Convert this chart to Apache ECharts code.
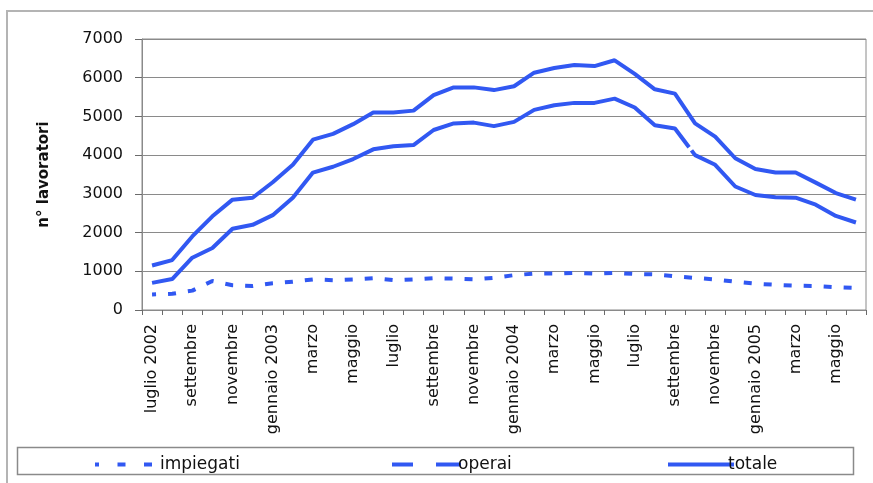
<!DOCTYPE html>
<html>
<head>
<meta charset="utf-8">
<script src="https://cdn.jsdelivr.net/npm/echarts@6/dist/echarts.min.js"></script>
<style>
html,body{margin:0;padding:0;background:#fff;}
#c{width:873px;height:483px;}
</style>
</head>
<body>
<div id="c"></div>
<script>
const categories = [
  'luglio 2002','agosto','settembre','ottobre','novembre','dicembre',
  'gennaio 2003','febbraio','marzo','aprile','maggio','giugno',
  'luglio','agosto','settembre','ottobre','novembre','dicembre',
  'gennaio 2004','febbraio','marzo','aprile','maggio','giugno',
  'luglio','agosto','settembre','ottobre','novembre','dicembre',
  'gennaio 2005','febbraio','marzo','aprile','maggio','giugno'
];
const impiegati = [400,420,500,750,640,620,690,730,790,770,790,820,
                   770,790,820,810,790,830,900,940,940,960,940,960,
                   930,920,870,830,790,730,680,650,630,620,590,570];
const operai = [700,800,1350,1600,2100,2200,2450,2900,3550,3700,3900,4150,
                4230,4260,4650,4820,4840,4750,4860,5170,5290,5350,5350,5460,
                5230,4770,4690,4000,3750,3190,2970,2910,2900,2720,2430,2260];
const totale = [1150,1290,1900,2420,2850,2900,3300,3750,4400,4550,4800,5100,
                5100,5150,5550,5750,5750,5680,5780,6130,6250,6330,6300,6450,
                6100,5700,5590,4820,4480,3920,3640,3550,3550,3290,3020,2850];
const yTicks = {min:0, max:7000, interval:1000};
const seriesNames = ['impiegati','operai','totale'];

const blue = '#3158f2';
const font = 'DejaVu Sans';
const chart = echarts.init(document.getElementById('c'), null, {renderer:'canvas'});

function legendFor(name, left, width, dash, textShift) {
  return {
    data:[name], left:left, top:451, orient:'horizontal',
    itemWidth:width, itemHeight:14, selectedMode:false,
    itemStyle:{opacity:0},
    lineStyle:{color:blue, width:4, type:dash, cap:'butt'},
    textStyle:{fontFamily:font, fontSize:17, color:'#111', padding:[0,0,0,textShift]}
  };
}

chart.setOption({
  animation:false,
  backgroundColor:'#fff',
  graphic:[
    {type:'rect', shape:{x:7, y:11, width:900, height:520}, style:{fill:'none', stroke:'#b4b4b4', lineWidth:2}, silent:true, z:-10},
    {type:'rect', shape:{x:17.5, y:447.5, width:836, height:27}, style:{fill:'none', stroke:'#8a8a8a', lineWidth:1.5}, silent:true}
  ],
  grid:{left:142, right:7, top:39, bottom:173, show:true, borderColor:'#8a8a8a', borderWidth:1, backgroundColor:'transparent'},
  legend:[
    legendFor(seriesNames[0], 88, 60, [8,18.5], 0),
    legendFor(seriesNames[1], 385, 70, [25,23], -9),
    legendFor(seriesNames[2], 661, 66, 'solid', -11)
  ],
  xAxis:{
    type:'category', data:categories, boundaryGap:true,
    axisLine:{lineStyle:{color:'#8a8a8a', width:1}},
    axisTick:{show:true, interval:0, length:5, lineStyle:{color:'#6a6a6a'}},
    axisLabel:{interval:1, rotate:90, margin:14, fontFamily:font, fontSize:16, color:'#111'},
    splitLine:{show:false}
  },
  yAxis:{
    type:'value', min:yTicks.min, max:yTicks.max, interval:yTicks.interval,
    name:'n° lavoratori', nameLocation:'middle', nameGap:90, nameRotate:90,
    nameTextStyle:{fontFamily:font, fontSize:15, fontWeight:'bold', color:'#111'},
    axisLine:{show:true, lineStyle:{color:'#8a8a8a', width:1}},
    axisTick:{show:true, length:7, lineStyle:{color:'#6a6a6a'}},
    axisLabel:{margin:19, fontFamily:font, fontSize:16, color:'#111', formatter:function(v){return String(v);}},
    splitLine:{show:true, lineStyle:{color:'#8a8a8a', width:1}}
  },
  series:[
    {name:seriesNames[0], type:'line', data:impiegati, showSymbol:false, symbol:'circle',
     itemStyle:{color:blue},
     lineStyle:{color:blue, width:4, type:[8,12], dashOffset:4, cap:'butt'}},
    {name:seriesNames[1], type:'line', data:operai, showSymbol:false, symbol:'circle',
     itemStyle:{color:blue},
     lineStyle:{color:blue, width:4, type:[612,4], cap:'butt'}},
    {name:seriesNames[2], type:'line', data:totale, showSymbol:false, symbol:'circle',
     itemStyle:{color:blue},
     lineStyle:{color:blue, width:4, cap:'butt'}}
  ]
});
</script>
</body>
</html>
